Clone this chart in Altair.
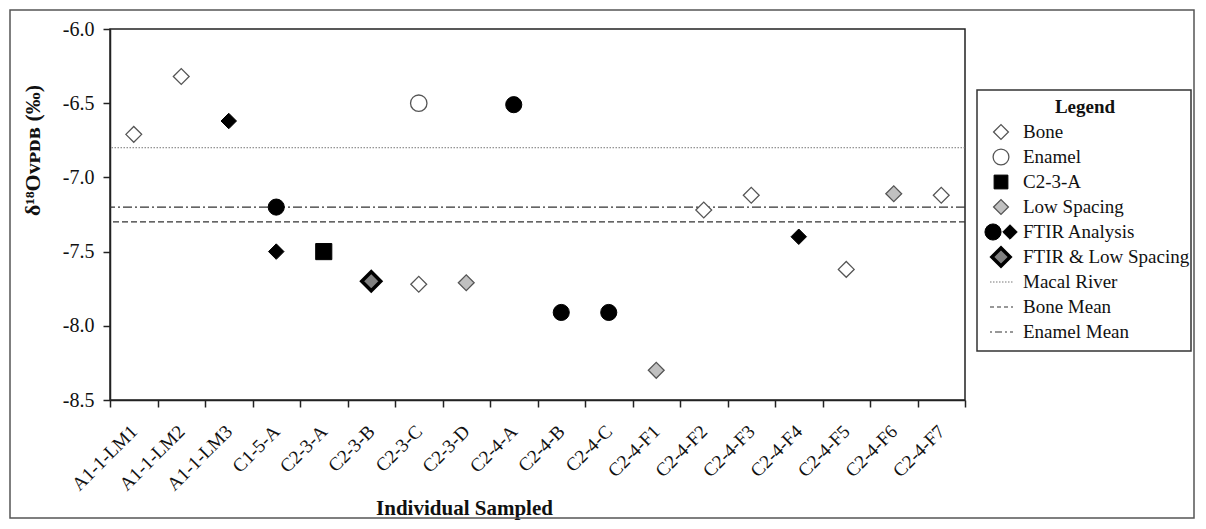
import altair as alt
import pandas as pd

# ---------------- data ----------------
samples = ["A1-1-LM1", "A1-1-LM2", "A1-1-LM3", "C1-5-A", "C2-3-A", "C2-3-B",
           "C2-3-C", "C2-3-D", "C2-4-A", "C2-4-B", "C2-4-C", "C2-4-F1",
           "C2-4-F2", "C2-4-F3", "C2-4-F4", "C2-4-F5", "C2-4-F6", "C2-4-F7"]

pt_sample = ["A1-1-LM1", "A1-1-LM2", "A1-1-LM3", "C1-5-A", "C1-5-A", "C2-3-A",
             "C2-3-B", "C2-3-C", "C2-3-C", "C2-3-D", "C2-4-A", "C2-4-B",
             "C2-4-C", "C2-4-F1", "C2-4-F2", "C2-4-F3", "C2-4-F4", "C2-4-F5",
             "C2-4-F6", "C2-4-F7"]
pt_value = [-6.71, -6.32, -6.62, -7.20, -7.50, -7.50,
            -7.70, -6.50, -7.72, -7.71, -6.51, -7.91,
            -7.91, -8.30, -7.22, -7.12, -7.40, -7.62,
            -7.11, -7.12]
pt_group = ["Bone", "Bone", "FTIR diamond", "FTIR circle", "FTIR diamond", "C2-3-A",
            "FTIR & Low Spacing", "Enamel", "Bone", "Low Spacing", "FTIR circle", "FTIR circle",
            "FTIR circle", "Low Spacing", "Bone", "Bone", "FTIR diamond", "Bone",
            "Low Spacing", "Bone"]

ref_names = ["Macal River", "Bone Mean", "Enamel Mean"]
ref_values = [-6.8, -7.3, -7.2]

y_ticks = [-8.5, -8.0, -7.5, -7.0, -6.5, -6.0]

legend_title = ["Legend"]
legend_labels = ["Bone", "Enamel", "C2-3-A", "Low Spacing", "FTIR Analysis",
                 "FTIR & Low Spacing", "Macal River", "Bone Mean", "Enamel Mean"]
legend_rows = [1, 2, 3, 4, 5, 6, 7, 8, 9]

points = pd.DataFrame({"sample": pt_sample, "value": pt_value, "group": pt_group})
refs = pd.DataFrame({"name": ref_names, "value": ref_values})
leg = pd.DataFrame({"label": legend_labels, "row": legend_rows})
leg_title = pd.DataFrame({"t": legend_title, "row": [0]})

FONT = "Liberation Serif"
INK = "#111111"

# ---------------- main plot ----------------
x_enc = alt.X(
    "sample:N", sort=samples,
    scale=alt.Scale(type="band", domain=samples, paddingInner=0, paddingOuter=0),
    axis=alt.Axis(
        title="Individual Sampled", tickBand="extent", labelAngle=-45,
        labelAlign="right", labelBaseline="middle",
        labelFont=FONT, labelFontSize=19, labelColor=INK, labelPadding=21,
        tickSize=7, tickColor="#222", tickWidth=1.5,
        domainColor="#222", domainWidth=1.5, grid=False,
        titleFont=FONT, titleFontSize=21, titleFontWeight="bold", titleColor=INK,
        titleX=354, titleY=108, titleAlign="center", titleBaseline="middle",
    ),
)

y_enc = alt.Y(
    "value:Q",
    scale=alt.Scale(domain=[-8.5, -6.0], nice=False, zero=False),
    axis=alt.Axis(
        title="δ¹⁸Oᴠᴘᴅʙ (‰)", values=y_ticks,
        labelExpr="replace(format(datum.value, '.1f'), '\u2212', '-')",
        labelFont=FONT, labelFontSize=20, labelColor=INK, labelPadding=9,
        tickSize=7, tickColor="#222", tickWidth=1.5,
        domainColor="#222", domainWidth=1.5, grid=False,
        titleFont=FONT, titleFontSize=22, titleFontWeight="bold", titleColor=INK,
        titleX=-78, titleY=121, titleAngle=270, titleAlign="center", titleBaseline="middle",
    ),
)


def pts(group, **kw):
    return (alt.Chart(points)
            .transform_filter(alt.datum.group == group)
            .mark_point(opacity=1, filled=True, **kw)
            .encode(x=x_enc, y=y_enc))


def ref(name, **kw):
    return (alt.Chart(refs)
            .transform_filter(alt.datum.name == name)
            .mark_rule(**kw)
            .encode(y=y_enc))


frame = (alt.Chart(pd.DataFrame({"k": [0]}))
         .mark_rect(fill="transparent", stroke="#555", strokeWidth=1.5)
         .encode(x=alt.value(-100), x2=alt.value(1084), y=alt.value(-19), y2=alt.value(489)))

main = alt.layer(
    frame,
    ref("Macal River", stroke="#777", strokeWidth=1, strokeDash=[1.5, 1.5]),
    ref("Bone Mean", stroke="#333", strokeWidth=1.2, strokeDash=[6, 3]),
    ref("Enamel Mean", stroke="#333", strokeWidth=1.2, strokeDash=[9, 3, 2, 3]),
    pts("Bone", shape="diamond", fill="white", stroke="#555", strokeWidth=1.3, size=250),
    pts("Enamel", shape="circle", fill="white", stroke="#555", strokeWidth=1.3, size=270),
    pts("C2-3-A", shape="square", fill="black", stroke="black", strokeWidth=1, size=260),
    pts("Low Spacing", shape="diamond", fill="#c0c0c0", stroke="#555", strokeWidth=1.3, size=250),
    pts("FTIR circle", shape="circle", fill="black", stroke="black", strokeWidth=1, size=260),
    pts("FTIR diamond", shape="diamond", fill="black", stroke="black", strokeWidth=1, size=240),
    pts("FTIR & Low Spacing", shape="diamond", fill="#808080", stroke="black", strokeWidth=3.5, size=360),
).properties(width=855, height=371)

# ---------------- legend panel ----------------
y_leg = alt.Y("row:Q", scale=alt.Scale(domain=[-0.68, 9.76], reverse=True, nice=False, zero=False), axis=None)


def lsym(label, xpos, **kw):
    return (alt.Chart(leg)
            .transform_filter(alt.datum.label == label)
            .mark_point(opacity=1, filled=True, **kw)
            .encode(x=alt.value(xpos), y=y_leg))


def lline(label, **kw):
    return (alt.Chart(leg)
            .transform_filter(alt.datum.label == label)
            .mark_rule(**kw)
            .encode(x=alt.value(13), x2=alt.value(36), y=y_leg))


legend_chart = alt.layer(
    alt.Chart(leg_title).mark_text(font=FONT, fontSize=19, fontWeight="bold", color=INK,
                                   align="center", baseline="middle")
    .encode(x=alt.value(108), y=y_leg, text="t:N"),
    lsym("Bone", 24, shape="diamond", fill="white", stroke="#555", strokeWidth=1.3, size=220),
    lsym("Enamel", 24, shape="circle", fill="white", stroke="#555", strokeWidth=1.3, size=250),
    lsym("C2-3-A", 24, shape="square", fill="black", stroke="black", strokeWidth=1, size=190),
    lsym("Low Spacing", 24, shape="diamond", fill="#c0c0c0", stroke="#555", strokeWidth=1.3, size=220),
    lsym("FTIR Analysis", 16, shape="circle", fill="black", stroke="black", strokeWidth=1, size=260),
    lsym("FTIR Analysis", 33, shape="diamond", fill="black", stroke="black", strokeWidth=1, size=210),
    lsym("FTIR & Low Spacing", 24, shape="diamond", fill="#808080", stroke="black", strokeWidth=3.5, size=330),
    lline("Macal River", stroke="#777", strokeWidth=1, strokeDash=[1.5, 1.5]),
    lline("Bone Mean", stroke="#333", strokeWidth=1.2, strokeDash=[4, 3]),
    lline("Enamel Mean", stroke="#333", strokeWidth=1.2, strokeDash=[2, 3, 7, 3]),
    alt.Chart(leg).mark_text(font=FONT, fontSize=19, color=INK, align="left", baseline="middle")
    .encode(x=alt.value(46), y=y_leg, text="label:N"),
).properties(width=214, height=261,
             view=alt.ViewBackground(stroke="#333", strokeWidth=1.5))

spacer = (alt.Chart(pd.DataFrame({"k": [0]}))
          .mark_point(opacity=0)
          .encode(x=alt.value(0), y=alt.value(0))
          .properties(width=214, height=61, view=alt.ViewBackground(stroke="transparent")))

right = alt.vconcat(spacer, legend_chart, spacing=0, bounds="flush")

chart = (alt.hconcat(main, right, spacing=12, bounds="flush")
         .properties(padding=0, background="white")
         .configure_view(stroke="#222", strokeWidth=1.5))

chart.save("out.html", embed_options={"renderer": "svg", "actions": False})
